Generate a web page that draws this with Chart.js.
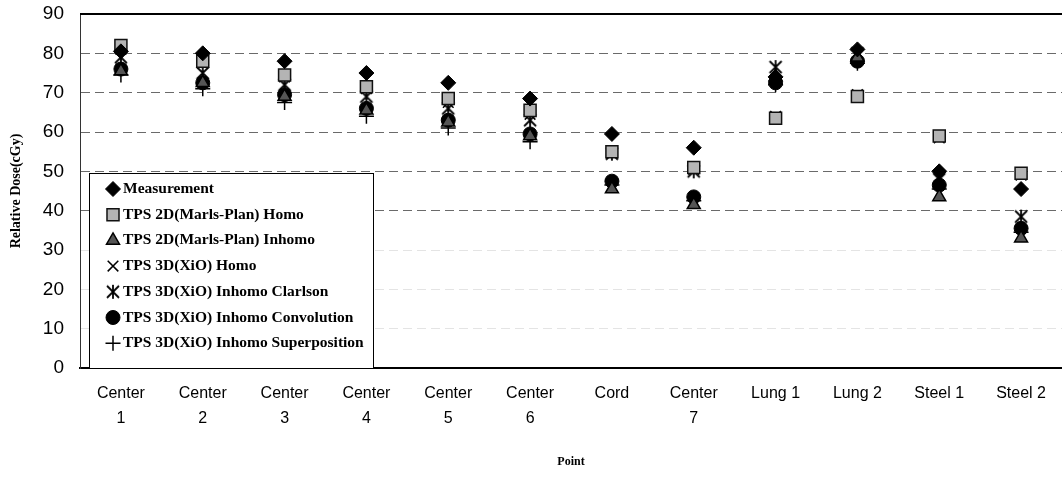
<!DOCTYPE html>
<html>
<head>
<meta charset="utf-8">
<script src="https://cdn.jsdelivr.net/npm/chart.js@4/dist/chart.umd.min.js"></script>
<style>
  html, body { margin: 0; padding: 0; background: #fff; }
  canvas { display: block; }
</style>
</head>
<body>
<canvas id="dose-chart" width="1062" height="479"></canvas>
<script>
// categories and series
const points = [['Center', '1'], ['Center', '2'], ['Center', '3'], ['Center', '4'], ['Center', '5'], ['Center', '6'],
    ['Cord'], ['Center', '7'], ['Lung 1'], ['Lung 2'], ['Steel 1'], ['Steel 2']];
const yTicks = [0, 10, 20, 30, 40, 50, 60, 70, 80, 90];

const measurement   = [80.5, 80, 78, 75, 72.5, 68.5, 59.5, 56, 74, 81, 50, 45.5];
const tps2dHomo     = [82, 78, 74.5, 71.5, 68.5, 65.5, 55, 51, 63.5, 69, 59, 49.5];
const tps2dInhomo   = [75.5, 72.5, 69, 65.5, 62.5, 59, 45.5, 41.5, 74, 79, 43.5, 33];
const tps3dHomo     = [81, 77.5, 74, 71, 67.5, 64.5, 54.5, 50.5, 64, 69.5, 58.5, 49];
const tps3dClarkson = [79, 75, 72, 69, 66, 63, 54.5, 50, 76.5, 80, 48, 38.5];
const tps3dConv     = [76, 72.5, 69.5, 66, 63, 59.5, 47.5, 43.5, 72.5, 78, 46.5, 35.5];
const tps3dSuper    = [74.5, 71, 67.5, 64, 61, 57.5, 46.5, 42.5, 72, 77.5, 45.5, 34.5];

// asterisk marker: X with a vertical stroke
function asteriskMarker() {
    const c = document.createElement('canvas');
    c.width = 16; c.height = 16;
    const g = c.getContext('2d');
    g.strokeStyle = '#000';
    g.lineWidth = 1.8;
    g.beginPath();
    g.moveTo(2, 2); g.lineTo(14, 14);
    g.moveTo(14, 2); g.lineTo(2, 14);
    g.moveTo(8, 1); g.lineTo(8, 15);
    g.stroke();
    return c;
}
const asterisk = asteriskMarker();

function series(label, data, style, radius, fill, border, width) {
    return {
        label, data,
        showLine: false,
        pointStyle: style,
        pointRadius: radius,
        pointHoverRadius: radius,
        pointBackgroundColor: fill,
        pointBorderColor: border,
        pointBorderWidth: width,
    };
}

const datasets = [
    series('Measurement', measurement, 'rectRot', 7.5, '#000', '#000', 1),
    series('TPS 2D(Marls-Plan) Homo', tps2dHomo, 'rect', 8.5, '#b4b4b4', '#111', 1.5),
    series('TPS 2D(Marls-Plan) Inhomo', tps2dInhomo, 'triangle', 7.5, '#555', '#000', 1.5),
    series('TPS 3D(XiO) Homo', tps3dHomo, 'crossRot', 7.5, '#000', '#000', 1.5),
    series('TPS 3D(XiO) Inhomo Clarlson', tps3dClarkson, asterisk, 7, '#000', '#000', 1.5),
    series('TPS 3D(XiO) Inhomo Convolution', tps3dConv, 'circle', 7, '#000', '#000', 1),
    series('TPS 3D(XiO) Inhomo Superposition', tps3dSuper, 'cross', 7.5, '#000', '#000', 1.5),
];

// legend box sitting inside the plot, plus the solid top frame line
const boxLegend = {
    id: 'boxLegend',
    afterDraw(chart) {
        const ctx = chart.ctx;
        const a = chart.chartArea;
        ctx.save();
        ctx.strokeStyle = '#000';
        ctx.lineWidth = 2;
        ctx.beginPath();
        ctx.moveTo(a.left, a.top);
        ctx.lineTo(a.right, a.top);
        ctx.stroke();

        const bx = 89, by = 173, bw = 284, bh = 195;
        ctx.fillStyle = '#fff';
        ctx.fillRect(bx, by, bw, bh);
        ctx.lineWidth = 1;
        ctx.strokeRect(bx + 0.5, by + 0.5, bw, bh);

        ctx.font = 'bold 15.5px "Liberation Serif", "Times New Roman", serif';
        ctx.textBaseline = 'middle';
        ctx.fillStyle = '#000';
        chart.data.datasets.forEach((ds, i) => {
            const y = by + 16 + i * 25.7;
            ctx.save();
            ctx.fillStyle = ds.pointBackgroundColor;
            ctx.strokeStyle = ds.pointBorderColor;
            ctx.lineWidth = ds.pointBorderWidth;
            Chart.helpers.drawPoint(ctx, { pointStyle: ds.pointStyle, radius: ds.pointRadius, rotation: 0, borderWidth: ds.pointBorderWidth }, 113, y);
            ctx.restore();
            ctx.fillStyle = '#000';
            ctx.fillText(ds.label, 123, y);
        });
        ctx.restore();
    }
};

new Chart(document.getElementById('dose-chart'), {
    type: 'line',
    data: { labels: points, datasets },
    plugins: [boxLegend],
    options: {
        responsive: false,
        animation: false,
        layout: { autoPadding: false, padding: { top: 14, right: 0, left: 0, bottom: 0 } },
        plugins: {
            legend: { display: false },
            tooltip: { enabled: false },
        },
        scales: {
            x: {
                type: 'category',
                offset: true,
                grid: { display: false },
                border: { display: true, color: '#000', width: 2 },
                ticks: {
                    color: '#000',
                    padding: 5,
                    maxRotation: 0,
                    autoSkip: false,
                    font: { family: '"Liberation Sans", Arial, sans-serif', size: 16, lineHeight: 1.55 },
                },
                title: {
                    display: true,
                    text: 'Point',
                    color: '#000',
                    font: { family: '"Liberation Serif", "Times New Roman", serif', size: 12, weight: 'bold' },
                    padding: { top: 0, bottom: 10 },
                },
                afterFit(scale) { scale.height = 111; },
            },
            y: {
                min: 0,
                max: 90,
                afterBuildTicks(scale) { scale.ticks = yTicks.map(v => ({ value: v })); },
                grid: {
                    drawTicks: false,
                    color: ctx => {
                        const v = ctx.tick && ctx.tick.value;
                        if (v === 0 || v === 90) return 'rgba(0,0,0,0)';
                        return v >= 40 ? '#6a6a6a' : '#e4e4e4';
                    },
                    lineWidth: 1,
                },
                border: { display: true, color: '#333', width: 1, dash: [9, 5] },
                ticks: {
                    color: '#000',
                    padding: 16,
                    font: { family: '"Liberation Sans", Arial, sans-serif', size: 19 },
                },
                title: {
                    display: true,
                    text: 'Relative Dose(cGy)',
                    color: '#000',
                    font: { family: '"Liberation Serif", "Times New Roman", serif', size: 14, weight: 'bold' },
                    padding: { top: 8, bottom: 0 },
                },
                afterFit(scale) {
                    scale.width = 80;
                    scale.paddingTop = 0;
                    scale.paddingBottom = 0;
                },
            },
        },
    },
});
</script>
</body>
</html>
